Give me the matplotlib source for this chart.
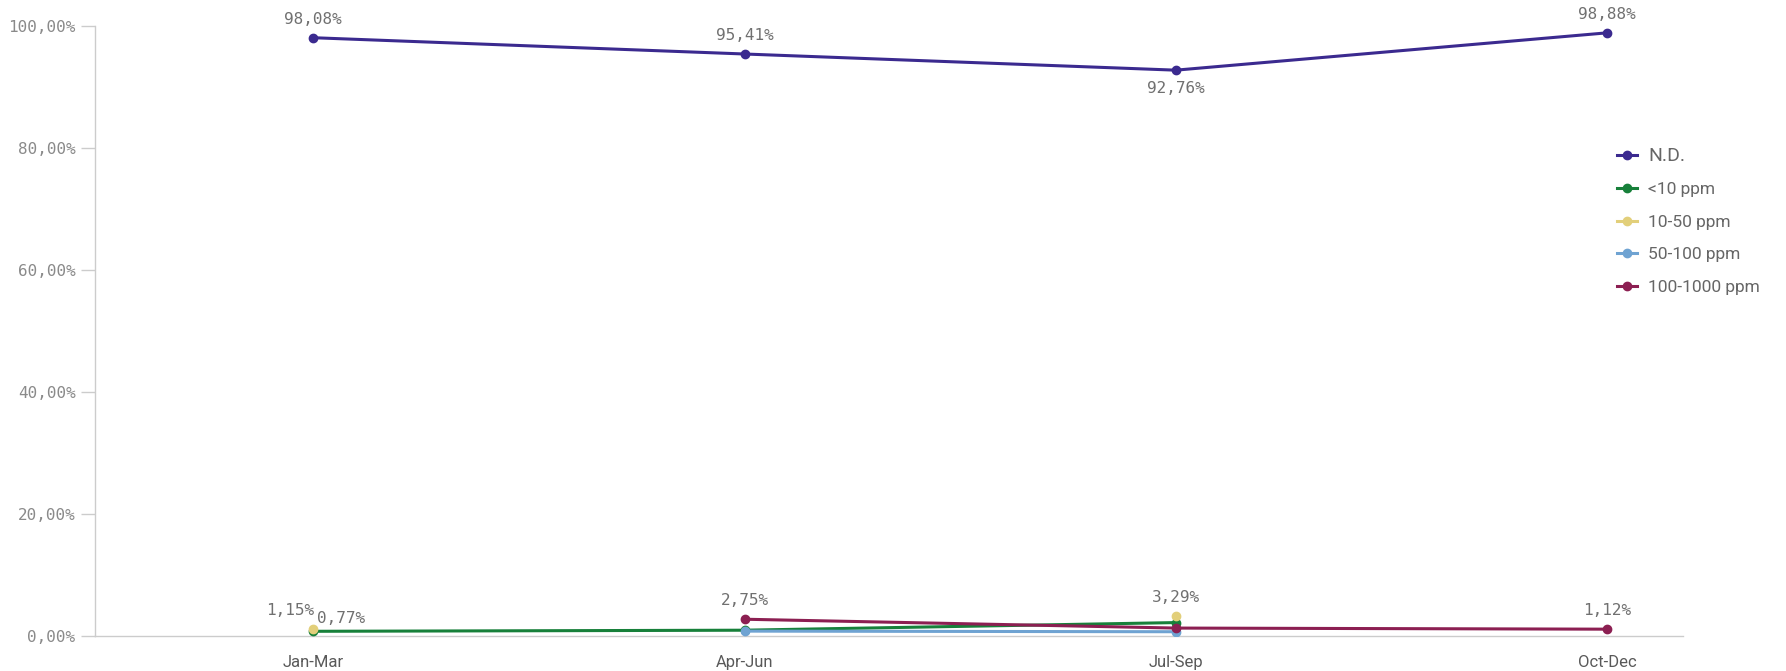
import numpy as np
import matplotlib.pyplot as plt
from matplotlib.lines import Line2D

# quarters on the x axis
quarters = ['Jan-Mar', 'Apr-Jun', 'Jul-Sep', 'Oct-Dec']

# share of samples per concentration class (%), NaN = no data
nd = [98.08, 95.41, 92.76, 98.88]
lt10 = [0.77, 0.95, 2.2, np.nan]
p10_50 = [1.15, np.nan, 3.29, np.nan]
p50_100 = [np.nan, 0.8, 0.7, np.nan]
p100_1000 = [np.nan, 2.75, 1.3, 1.12]

series_names = ['N.D.', '<10 ppm', '10-50 ppm', '50-100 ppm', '100-1000 ppm']
series_values = [nd, lt10, p10_50, p50_100, p100_1000]
colors = ['#3b2a8f', '#17803a', '#e2cf7a', '#6fa3d2', '#8c1f52']

# which points carry a value label: (series index, quarter index, position)
shown_labels = [(0, 0, 'above'), (0, 1, 'above'), (0, 2, 'below'), (0, 3, 'above'),
                (2, 0, 'left'), (1, 0, 'right'), (4, 1, 'above'),
                (2, 2, 'above'), (4, 3, 'above')]


def fmt(v):
    return f'{v:.2f}'.replace('.', ',') + '%'


fig = plt.figure(figsize=(17.86, 6.71), dpi=100)
ax = fig.add_axes([95 / 1786, 35 / 671, (1683 - 95) / 1786, (645 - 35) / 671])

x = np.arange(len(quarters))
for name, vals, col in zip(series_names, series_values, colors):
    ax.plot(x, vals, color=col, lw=2.2, marker='o', ms=6, zorder=3)

lab_kw = dict(textcoords='offset points', fontsize=11.5, color='#707070',
              family='DejaVu Sans Mono')
for si, qi, pos in shown_labels:
    v = series_values[si][qi]
    if pos == 'above':
        ax.annotate(fmt(v), (qi, v), xytext=(0, 8), ha='center', va='bottom', **lab_kw)
    elif pos == 'below':
        ax.annotate(fmt(v), (qi, v), xytext=(0, -8), ha='center', va='top', **lab_kw)
    elif pos == 'left':
        ax.annotate(fmt(v), (qi, v), xytext=(1, 8), ha='right', va='bottom', **lab_kw)
    else:
        ax.annotate(fmt(v), (qi, v), xytext=(3, 4), ha='left', va='bottom', **lab_kw)

ax.set_xlim(-0.506, 3.176)
ax.set_ylim(0, 100)
ax.set_yticks([0, 20, 40, 60, 80, 100])
ax.set_yticklabels([fmt(t) for t in [0, 20, 40, 60, 80, 100]],
                   family='DejaVu Sans Mono', fontsize=11.5, color='#8a8a8a')
ax.set_xticks(x)
ax.set_xticklabels(quarters, fontsize=12, color='#595959', family='Roboto')
ax.tick_params(axis='y', length=10, color='#cccccc', width=1, pad=4)
ax.tick_params(axis='x', length=0, pad=14)
for s in ['top', 'right']:
    ax.spines[s].set_visible(False)
for s in ['left', 'bottom']:
    ax.spines[s].set_color('#cccccc')
    ax.spines[s].set_linewidth(1)

handles = [Line2D([0], [0], color=c, lw=2.2, marker='o', ms=6) for c in colors]
leg = fig.legend(handles, series_names, loc='upper left',
                 bbox_to_anchor=(1601 / 1786, 1 - 131 / 671), frameon=False,
                 handlelength=1.2, handletextpad=0.6, labelspacing=1.0,
                 prop={'family': 'Roboto', 'size': 12.5})
for t in leg.get_texts():
    t.set_color('#666666')
leg.get_texts()[0].set_fontsize(14)

fig.savefig('out.png', dpi=100)
